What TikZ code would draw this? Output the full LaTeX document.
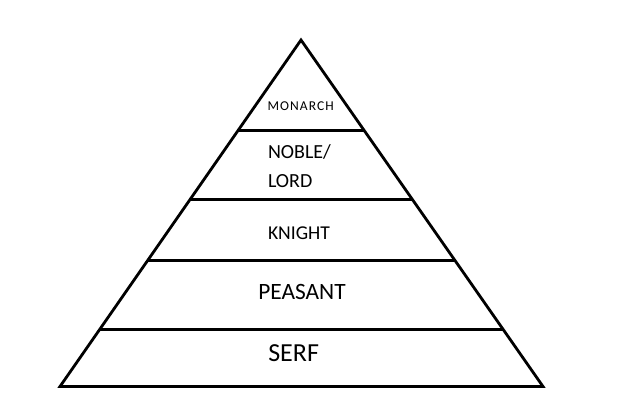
\documentclass[tikz,border=0pt]{standalone}
\usepackage{fontspec}
\setmainfont{Carlito}
\newfontfamily\monfont[LetterSpace=8]{Carlito}
\usetikzlibrary{calc}
\begin{document}
\begin{tikzpicture}[x=1pt,y=-1pt,
  edge/.style={line width=2.8pt,black},
  lvl/.style={anchor=base west,inner sep=0pt,outer sep=0pt,text=black}]
\useasboundingbox (0,0) rectangle (622,419);
\coordinate (A) at (301,40);
\coordinate (BL) at (60,386.5);
\coordinate (BR) at (543,386.5);
\draw[edge,line join=miter] (A) -- (BL) -- (BR) -- cycle;
\coordinate (L1) at ($(A)!0.2612!(BL)$);
\coordinate (R1) at ($(A)!0.2612!(BR)$);
\coordinate (L2) at ($(A)!0.4603!(BL)$);
\coordinate (R2) at ($(A)!0.4603!(BR)$);
\coordinate (L3) at ($(A)!0.6364!(BL)$);
\coordinate (R3) at ($(A)!0.6364!(BR)$);
\coordinate (L4) at ($(A)!0.8355!(BL)$);
\coordinate (R4) at ($(A)!0.8355!(BR)$);
\draw[edge] (L1) -- (R1);
\draw[edge] (L2) -- (R2);
\draw[edge] (L3) -- (R3);
\draw[edge] (L4) -- (R4);
\node[lvl] (monarch) at (267.5,110.3) {\monfont\fontsize{13.5}{16}\selectfont MONARCH};
\node[lvl] (noble) at (268,159) {\fontsize{20}{24}\selectfont NOBLE/};
\node[lvl] (lord) at (268,188) {\fontsize{20}{24}\selectfont LORD};
\node[lvl] (knight) at (268,239.3) {\fontsize{19.6}{24}\selectfont KNIGHT};
\node[lvl] (peasant) at (258.3,299.3) {\fontsize{23.4}{28}\selectfont PEASANT};
\node[lvl] (serf) at (268.3,361.7) {\fontsize{26}{31}\selectfont SERF};
\end{tikzpicture}
\end{document}
